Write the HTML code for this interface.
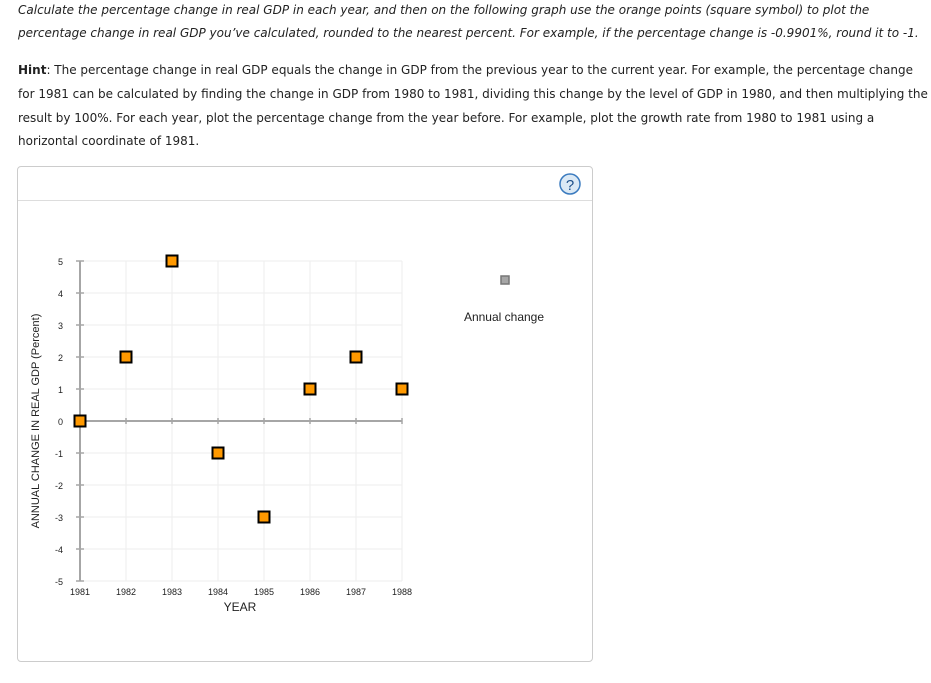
<!DOCTYPE html>
<html><head><meta charset="utf-8">
<style>
body{margin:0;background:#fff;width:931px;height:683px;overflow:hidden;position:relative;font-family:"DejaVu Sans","Liberation Sans",sans-serif;color:#222;}
.t{position:absolute;left:18px;font-size:12px;white-space:nowrap;line-height:16px;}
.i{font-style:italic;}
#panel{position:absolute;left:17px;top:166px;width:574px;height:494px;border:1px solid #ccc;border-radius:4px;}
#hdr{position:absolute;left:0;top:33px;width:574px;border-top:1px solid #ddd;}
</style></head><body>
<div class="t i" style="top:2px">Calculate the percentage change in real GDP in each year, and then on the following graph use the orange points (square symbol) to plot the</div>
<div class="t i" style="top:25px">percentage change in real GDP you’ve calculated, rounded to the nearest percent. For example, if the percentage change is -0.9901%, round it to -1.</div>
<div class="t" style="top:62px"><b>Hint</b>: The percentage change in real GDP equals the change in GDP from the previous year to the current year. For example, the percentage change</div>
<div class="t" style="top:86px">for 1981 can be calculated by finding the change in GDP from 1980 to 1981, dividing this change by the level of GDP in 1980, and then multiplying the</div>
<div class="t" style="top:110px">result by 100%. For each year, plot the percentage change from the year before. For example, plot the growth rate from 1980 to 1981 using a</div>
<div class="t" style="top:133px">horizontal coordinate of 1981.</div>
<div id="panel"><div id="hdr"></div></div>
<svg id="chart" width="931" height="683" style="position:absolute;left:0;top:0" font-family="Liberation Sans, Arial, sans-serif">
<g><circle cx="570" cy="184" r="10" fill="#dbe9f5" stroke="#3b7bbf" stroke-width="1.5"/><text x="570" y="190" font-size="15" text-anchor="middle" fill="#1d4f8a">?</text></g>
<g><rect x="501" y="276" width="8" height="8" fill="#a6a6a6" stroke="#777" stroke-width="1.5"/><text x="504" y="321" font-size="12" text-anchor="middle" fill="#222">Annual change</text></g>
</svg>
<script>
const years=[1981,1982,1983,1984,1985,1986,1987,1988];
const yTicks=[5,4,3,2,1,0,-1,-2,-3,-4,-5];
const values=[0,2,5,-1,-3,1,2,1];
const svg=document.getElementById('chart');
const NS='http://www.w3.org/2000/svg';
const X=v=>80+(v-1981)*46;
const Y=v=>421-v*32;
function mk(tag,attrs,parent){const e=document.createElementNS(NS,tag);for(const k in attrs)e.setAttribute(k,attrs[k]);(parent||svg).appendChild(e);return e;}
const grid=mk('g',{});


yTicks.forEach(t=>{const l=mk('line',{x1:X(1981),x2:X(1988),y1:Y(t),y2:Y(t),stroke:'#eee','stroke-width':1},grid);

});
years.forEach(y=>{const l=mk('line',{x1:X(y),x2:X(y),y1:Y(5),y2:Y(-5),stroke:'#eee','stroke-width':1},grid);

});
const ax=mk('g',{});


mk('line',{x1:X(1981),x2:X(1981),y1:Y(5),y2:Y(-5),stroke:'#a6a6a6','stroke-width':2},ax);
mk('line',{x1:X(1981),x2:X(1988),y1:Y(0),y2:Y(0),stroke:'#a6a6a6','stroke-width':2},ax);
yTicks.forEach(t=>{mk('line',{x1:X(1981)-4,x2:X(1981)+4,y1:Y(t),y2:Y(t),stroke:'#a6a6a6','stroke-width':1.5},ax);
const tx=mk('text',{x:X(1981)-17,y:Y(t)+4,'font-size':9,'text-anchor':'end',fill:'#222'},ax);tx.textContent=t;

});
years.forEach(y=>{mk('line',{x1:X(y),x2:X(y),y1:Y(0)-3,y2:Y(0)+3,stroke:'#a6a6a6','stroke-width':1.5},ax);
const tx=mk('text',{x:X(y),y:Y(-5)+14,'font-size':9,'text-anchor':'middle',fill:'#222'},ax);tx.textContent=y;

});
const xt=mk('text',{x:240,y:611,'font-size':12,'text-anchor':'middle',fill:'#222'});xt.textContent='YEAR';


const yt=mk('text',{x:0,y:0,'font-size':11,'text-anchor':'middle',fill:'#222',transform:'translate(39,421) rotate(-90)'});yt.textContent='ANNUAL CHANGE IN REAL GDP (Percent)';


values.forEach((v,i)=>{const r=mk('rect',{x:X(years[i])-5.5,y:Y(v)-5.5,width:11,height:11,fill:'#ff9900',stroke:'#000','stroke-width':2});

});
</script>
</body></html>
